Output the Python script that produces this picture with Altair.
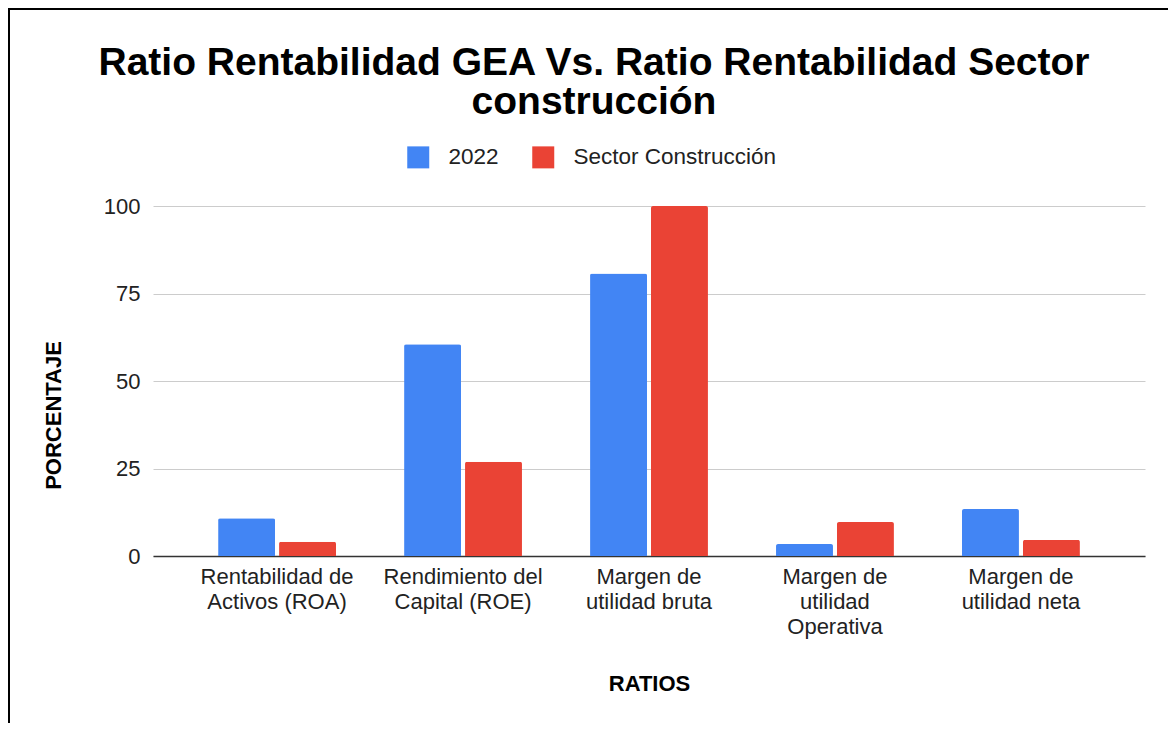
import altair as alt
import pandas as pd

# ---- data ----
categories = [
    "Rentabilidad de|Activos (ROA)",
    "Rendimiento del|Capital (ROE)",
    "Margen de|utilidad bruta",
    "Margen de|utilidad|Operativa",
    "Margen de|utilidad neta",
]
series = ["2022", "Sector Construcción"]
values_2022 = [10.8, 60.5, 80.7, 3.4, 13.4]
values_sector = [4.1, 26.9, 100.0, 9.7, 4.6]
y_ticks = [0, 25, 50, 75, 100]
colors = ["#4285F4", "#EA4335"]

rows = []
for c, v in zip(categories, values_2022):
    rows.append({"ratio": c, "serie": series[0], "valor": v})
for c, v in zip(categories, values_sector):
    rows.append({"ratio": c, "serie": series[1], "valor": v})
df = pd.DataFrame(rows)

FONT = "Liberation Sans"

bars = alt.Chart(df).mark_bar(cornerRadiusTopLeft=2, cornerRadiusTopRight=2).encode(
    x=alt.X(
        "ratio:N",
        sort=categories,
        scale=alt.Scale(paddingInner=0.366, paddingOuter=0.35),
        axis=alt.Axis(
            title="RATIOS",
            labelExpr="split(datum.label, '|')",
            labelAngle=0,
            labelFontSize=22,
            labelLineHeight=25,
            labelColor="#222222",
            labelFont=FONT,
            labelLimit=400,
            labelOverlap=False,
            labelPadding=10,
            ticks=False,
            domainColor="#333333",
            domainWidth=1.5,
            titleFont=FONT,
            titleFontSize=22,
            titleFontWeight="bold",
            titleColor="#000000",
            titlePadding=36,
        ),
    ),
    xOffset=alt.XOffset(
        "serie:N", sort=series, scale=alt.Scale(paddingInner=0.0656, paddingOuter=0)
    ),
    y=alt.Y(
        "valor:Q",
        scale=alt.Scale(domain=[0, 100], nice=False),
        axis=alt.Axis(
            title="PORCENTAJE",
            values=y_ticks,
            labelFontSize=22,
            labelColor="#222222",
            labelFont=FONT,
            labelPadding=13,
            ticks=False,
            domain=False,
            grid=True,
            gridColor="#cccccc",
            gridWidth=1,
            titleFont=FONT,
            titleFontSize=22,
            titleFontWeight="bold",
            titleColor="#000000",
            titlePadding=38,
            titleY=209,
            titleAlign="center",
        ),
    ),
    color=alt.Color(
        "serie:N",
        sort=series,
        scale=alt.Scale(domain=series, range=colors),
        legend=alt.Legend(
            title=None,
            orient="none",
            legendX=254,
            legendY=-60,
            direction="horizontal",
            symbolType="square",
            symbolSize=484,
            symbolStrokeWidth=0,
            labelFontSize=22.5,
            labelFont=FONT,
            labelColor="#222222",
            labelOffset=19,
            labelLimit=400,
            columnPadding=33,
        ),
    ),
)

border = alt.Chart(pd.DataFrame({"k": [0]})).mark_rect(
    filled=False, stroke="#000000", strokeWidth=2
).encode(
    x=alt.value(-144), x2=alt.value(1100), y=alt.value(-197), y2=alt.value(600)
)

chart = alt.layer(bars, border).properties(
    width=992,
    height=350,
    background="white",
    autosize=alt.AutoSizeParams(type="none"),
    padding={"left": 145, "top": 198, "right": 23, "bottom": 167},
    title=alt.TitleParams(
        text=["Ratio Rentabilidad GEA Vs. Ratio Rentabilidad Sector", "construcción"],
        font=FONT,
        fontSize=39,
        fontWeight="bold",
        color="#000000",
        anchor="middle",
        dx=-55,
        offset=-114,
        lineHeight=39,
    ),
).configure_view(stroke=None)

chart.save("out.html", embed_options={"renderer": "svg", "actions": False})
